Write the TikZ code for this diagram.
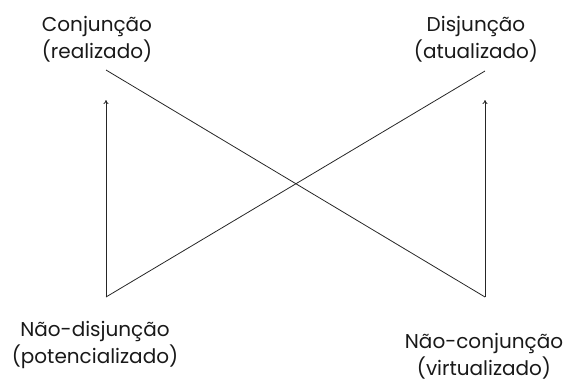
\documentclass[tikz,border=0pt]{standalone}
\usepackage{fontspec}
\setmainfont{Poppins}
\usetikzlibrary{arrows.meta}
\begin{document}
\begin{tikzpicture}[x=1pt,y=-1pt,
  lbl/.style={align=center,inner sep=0pt,font=\fontsize{20}{27}\selectfont,text=black!90},
  conn/.style={line width=0.8pt,draw=black!85},
  arr/.style={conn,-{To[length=4pt,width=5pt]}}]
\useasboundingbox (0,0) rectangle (578,381);
\node[lbl] (conj) at (97,39) {Conjunção\\(realizado)};
\node[lbl] (disj) at (476,39) {Disjunção\\(atualizado)};
\node[lbl] (ndisj) at (95,345) {Não-disjunção\\(potencializado)};
\node[lbl] (nconj) at (484,356) {Não-conjunção\\(virtualizado)};
\coordinate (tl) at (106,70);
\coordinate (tr) at (485,71);
\coordinate (bl) at (106,297);
\coordinate (br) at (485,297);
\coordinate (al) at (106,100);
\coordinate (ar) at (485,100);
\draw[conn] (tl) -- (br);
\draw[conn] (bl) -- (tr);
\draw[arr] (bl) -- (al);
\draw[arr] (br) -- (ar);
\end{tikzpicture}
\end{document}
